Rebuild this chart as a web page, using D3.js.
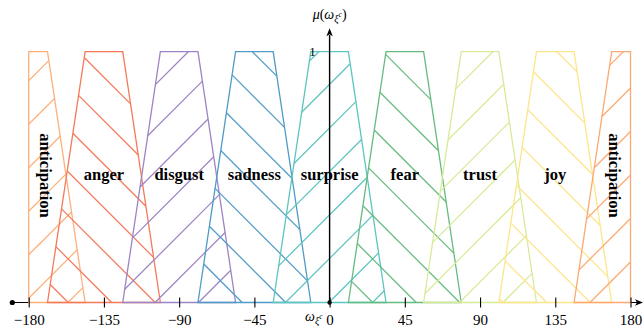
<!DOCTYPE html>
<html>
<head>
<meta charset="utf-8">
<script src="https://cdn.jsdelivr.net/npm/d3@7/dist/d3.min.js"></script>
<style>
  body { margin: 0; background: #fff; }
  svg { display: block; }
</style>
</head>
<body>
<svg id="chart"></svg>
<script>
"use strict";

// membership functions: one trapezoid per emotion, centred on its angle
const emotions = ["anticipation", "anger", "disgust", "sadness", "surprise", "fear", "trust", "joy", "anticipation"];
const centers = [-180, -135, -90, -45, 0, 45, 90, 135, 180];
const colours = ["#fdb07a", "#f47a5a", "#9d84c4", "#4f9bc6", "#5cc5bf", "#66bb80", "#d8eb98", "#fee58a", "#fca872"];
const hatchDir = [1, -1, 1, -1, 1, -1, 1, -1, 1];   // 1 = "/", -1 = "\"
const coreHalf = 11.25;      // membership = 1 inside centre +- coreHalf
const supportHalf = 33.75;   // membership > 0 inside centre +- supportHalf
const xTicks = [-180, -135, -90, -45, 0, 45, 90, 135, 180];
const yTicks = [1];

const width = 644, height = 335;
let svg = d3.select('#chart').attr('width', width).attr('height', height);

let x = d3.scaleLinear().domain([-180, 180]).range([28.7, 630.5]);
let y = d3.scaleLinear().domain([0, 1]).range([302.5, 51.7]);
let y0 = y(0), x0 = x(0);

/* hatch pattern grid (pixels) */
const hatchStep = 43.5, hatchOffUp = 22.5, hatchOffDown = 26.7;

/* clip a polygon [[deg, mu], ...] to the x domain */
function clipPoly(pts, lo, hi) {
  function clipSide(p, inside, cut) {
    let out = [];
    for (let i = 0; i < p.length; i++) {
      let a = p[i], b = p[(i + 1) % p.length];
      let ia = inside(a), ib = inside(b);
      if (ia) out.push(a);
      if (ia !== ib) {
        let t = (cut - a[0]) / (b[0] - a[0]);
        out.push([cut, a[1] + t * (b[1] - a[1])]);
      }
    }
    return out;
  }
  let p = clipSide(pts, d => d[0] >= lo, lo);
  return clipSide(p, d => d[0] <= hi, hi);
}

/* part of the line A + t*D inside a convex polygon */
function segmentInside(poly, A, D) {
  let ts = [];
  for (let i = 0; i < poly.length; i++) {
    let P = poly[i], Q = poly[(i + 1) % poly.length];
    let E = [Q[0] - P[0], Q[1] - P[1]];
    let den = D[0] * E[1] - D[1] * E[0];
    if (Math.abs(den) < 1e-9) continue;
    let w = [P[0] - A[0], P[1] - A[1]];
    let t = (w[0] * E[1] - w[1] * E[0]) / den;
    let s = (w[0] * D[1] - w[1] * D[0]) / den;
    if (s >= -1e-9 && s <= 1 + 1e-9) ts.push(t);
  }
  if (ts.length < 2) return null;
  let t0 = d3.min(ts), t1 = d3.max(ts);
  if (t1 - t0 < 0.5) return null;
  return [A[0] + t0 * D[0], A[1] + t0 * D[1], A[0] + t1 * D[0], A[1] + t1 * D[1]];
}

/* x axis line (under the shapes) */
svg.append('line')
   .attr('x1', 12.3).attr('x2', 637)
   .attr('y1', y0).attr('y2', y0)
   .style('stroke', '#000').style('stroke-width', 1.2);
svg.append('path')
   .attr('d', `M643,${y0} L635,${y0 - 3.2} L637,${y0} L635,${y0 + 3.2} Z`)
   .style('fill', '#000');
svg.append('circle').attr('cx', 12.3).attr('cy', y0).attr('r', 2.6).style('fill', '#000');

centers.forEach((c, i) => {
  let raw = [[c - supportHalf, 0], [c - coreHalf, 1], [c + coreHalf, 1], [c + supportHalf, 0]];
  let pts = clipPoly(raw, -180, 180).map(d => [x(d[0]), y(d[1])]);

  let g = svg.append('g').attr('class', `emotion-${i}`);

  let xs = pts.map(d => d[0]), ys = pts.map(d => d[1]);
  let xmin = d3.min(xs), xmax = d3.max(xs), ymin = d3.min(ys), ymax = d3.max(ys);
  let segs = [];
  if (hatchDir[i] === 1) {
    let k0 = Math.floor((xmin + ymin - hatchOffUp) / hatchStep);
    let k1 = Math.ceil((xmax + ymax - hatchOffUp) / hatchStep);
    for (let k = k0; k <= k1; k++) {
      let C = hatchOffUp + k * hatchStep;
      let s = segmentInside(pts, [C, 0], [-1, 1]);
      if (s) segs.push(s);
    }
  } else {
    let k0 = Math.floor((xmin - ymax - hatchOffDown) / hatchStep);
    let k1 = Math.ceil((xmax - ymin - hatchOffDown) / hatchStep);
    for (let k = k0; k <= k1; k++) {
      let C = hatchOffDown + k * hatchStep;
      let s = segmentInside(pts, [C, 0], [1, 1]);
      if (s) segs.push(s);
    }
  }
  g.selectAll('line.hatch')
   .data(segs)
   .enter()
   .append('line')
   .attr('class', 'hatch')
   .attr('x1', d => d[0]).attr('y1', d => d[1])
   .attr('x2', d => d[2]).attr('y2', d => d[3])
   .style('stroke', colours[i])
   .style('stroke-width', 1.25);

  g.append('path')
   .attr('d', d3.line()(pts) + 'Z')
   .style('fill', 'none')
   .style('stroke', colours[i])
   .style('stroke-width', 1.3);
});

/* emotion labels */
centers.forEach((c, i) => {
  let edge = Math.abs(c) === 180;
  let pos = Math.max(-170, Math.min(170, c));
  let t = svg.append('text')
     .attr('font-family', "'Liberation Serif', serif")
     .attr('font-weight', 'bold')
     .attr('font-size', '16.5px')
     .attr('text-anchor', 'middle')
     .style('fill', '#000')
     .text(emotions[i]);
  if (edge) {
    t.attr('transform', `translate(${x(pos)},175.5) rotate(90)`)
     .attr('dy', '0.3em');
  } else {
    t.attr('x', x(pos)).attr('y', 179.5);
  }
});

/* x ticks and labels */
let xAxis = d3.axisBottom(x).tickValues(xTicks).tickSizeInner(10).tickSizeOuter(0).tickPadding(7);
let gx = svg.append('g').attr('transform', `translate(0,${y0 - 5})`).call(xAxis);
gx.select('.domain').remove();
gx.selectAll('.tick line').style('stroke', '#000').style('stroke-width', 1.1);
gx.selectAll('.tick text')
  .attr('font-family', "'Liberation Serif', serif")
  .attr('font-size', '15px')
  .style('fill', '#000');

/* y axis */
svg.append('line')
   .attr('x1', x0).attr('x2', x0)
   .attr('y1', y0).attr('y2', 35)
   .style('stroke', '#000').style('stroke-width', 1.4);
svg.append('path')
   .attr('d', `M${x0},28.3 L${x0 - 3.2},36.3 L${x0},34.3 L${x0 + 3.2},36.3 Z`)
   .style('fill', '#000');
svg.append('circle').attr('cx', x0).attr('cy', y0).attr('r', 2.2).style('fill', '#000');

svg.selectAll('text.ytick')
   .data(yTicks)
   .enter()
   .append('text')
   .attr('class', 'ytick')
   .attr('x', x0 - 17)
   .attr('y', d => y(d))
   .attr('dy', '0.35em')
   .attr('text-anchor', 'middle')
   .attr('font-family', "'Liberation Serif', serif")
   .attr('font-size', '13px')
   .text(d => d);

/* axis names */
let yName = svg.append('text')
   .attr('x', x0).attr('y', 19)
   .attr('text-anchor', 'middle')
   .attr('font-family', "'Liberation Serif', serif")
   .attr('font-size', '14px');
yName.append('tspan').attr('font-style', 'italic').text('μ');
yName.append('tspan').text('(');
yName.append('tspan').attr('font-style', 'italic').text('ω');
yName.append('tspan').attr('font-style', 'italic').attr('font-size', '10px').attr('dy', 3).text('ξ');
yName.append('tspan').attr('font-style', 'italic').attr('font-size', '7.5px').attr('dy', -5).text('c');
yName.append('tspan').attr('dy', 2).text(')');

let xName = svg.append('text')
   .attr('x', x0 - 7).attr('y', 321)
   .attr('text-anchor', 'end')
   .attr('font-family', "'Liberation Serif', serif")
   .attr('font-size', '14px');
xName.append('tspan').attr('font-style', 'italic').text('ω');
xName.append('tspan').attr('font-style', 'italic').attr('font-size', '10px').attr('dy', 3).text('ξ');
xName.append('tspan').attr('font-style', 'italic').attr('font-size', '7.5px').attr('dy', -5).text('c');
</script>
</body>
</html>
